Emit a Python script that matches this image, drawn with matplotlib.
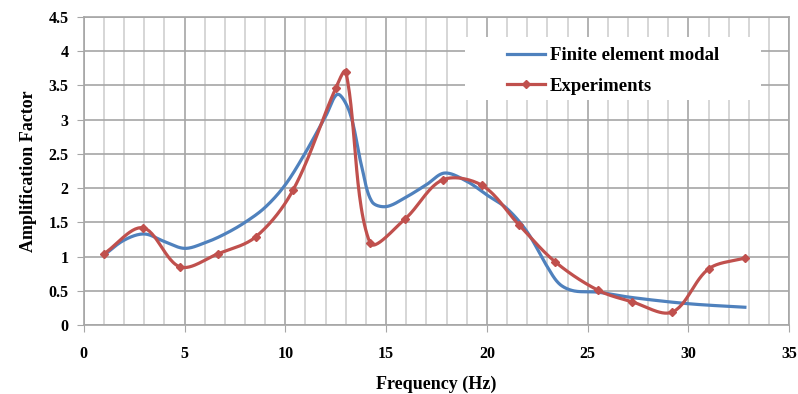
import numpy as np
import matplotlib
matplotlib.use("Agg")
import matplotlib.pyplot as plt
from matplotlib.ticker import MultipleLocator
from matplotlib.patches import Rectangle

plt.rcParams['font.family'] = ['Liberation Serif', 'DejaVu Serif']
plt.rcParams['font.weight'] = 'bold'

# data
fem_freq = [1.0, 2.0, 3.0, 4.0, 5.0, 6.0, 7.0, 8.0, 9.0, 10.0, 11.0, 12.0, 12.6,
            13.2, 13.8, 14.3, 15.0, 16.0, 17.0, 17.9, 19.0, 20.0, 21.0, 22.0,
            23.0, 23.6, 24.3, 25.5, 27.0, 29.0, 30.5, 32.8]
fem_amp = [1.02, 1.24, 1.33, 1.22, 1.12, 1.2, 1.33, 1.5, 1.72, 2.05, 2.52, 3.05, 3.37,
           3.1, 2.3, 1.8, 1.73, 1.87, 2.05, 2.22, 2.1, 1.9, 1.7, 1.36,
           0.85, 0.6, 0.5, 0.48, 0.41, 0.34, 0.3, 0.26]

exp_freq = [1.0, 2.93, 4.77, 6.65, 8.54, 10.38, 12.5, 13.0, 14.2, 15.94, 17.8,
            19.76, 21.6, 23.4, 25.5, 27.2, 29.2, 31.0, 32.8]
exp_amp = [1.04, 1.42, 0.85, 1.04, 1.29, 1.97, 3.46, 3.7, 1.2, 1.55, 2.12,
           2.04, 1.46, 0.92, 0.51, 0.34, 0.19, 0.82, 0.98]


def smooth(xs, ys, n=30, sx=20.14, sy=68.4):
    # bezier smoothing with chord-length weighted tangents (less overshoot)
    p = np.column_stack([np.array(xs) * sx, np.array(ys) * sy])
    d = np.hypot(*np.diff(p, axis=0).T)
    m = np.zeros_like(p)
    m[0] = (p[1] - p[0]) / d[0]
    m[-1] = (p[-1] - p[-2]) / d[-1]
    for i in range(1, len(p) - 1):
        m[i] = (p[i + 1] - p[i - 1]) / (d[i - 1] + d[i])
    out = []
    t = np.linspace(0, 1, n)[:, None]
    for i in range(len(p) - 1):
        p1, p2 = p[i], p[i + 1]
        c1 = p1 + m[i] * d[i] / 3
        c2 = p2 - m[i + 1] * d[i] / 3
        seg = ((1 - t) ** 3) * p1 + 3 * ((1 - t) ** 2) * t * c1 + 3 * (1 - t) * t ** 2 * c2 + t ** 3 * p2
        out.append(seg)
    out = np.vstack(out)
    return out[:, 0] / sx, out[:, 1] / sy


fig = plt.figure(figsize=(7.98, 3.94), dpi=100)
ax = fig.add_axes([0.105, 0.175, 0.884, 0.782])

bx, by = smooth(fem_freq, fem_amp)
rx, ry = smooth(exp_freq, exp_amp)

ax.plot(bx, by, color='#4F81BD', lw=2.3, label='Finite element modal', zorder=3)
ax.plot(rx, ry, color='#C0504D', lw=2.3, zorder=4)
ax.plot(exp_freq, exp_amp, ls='none', marker='D', ms=4.5, color='#C0504D', zorder=5)
ax.plot([], [], color='#C0504D', lw=2.3, marker='D', ms=4.5, label='Experiments')

ax.set_xlim(0, 35)
ax.set_ylim(0, 4.5)
ax.xaxis.set_major_locator(MultipleLocator(5))
ax.xaxis.set_minor_locator(MultipleLocator(1))
ax.set_yticks([0, 0.5, 1, 1.5, 2, 2.5, 3, 3.5, 4, 4.5])
ax.set_yticklabels(['0', '0.5', '1', '1.5', '2', '2.5', '3', '3.5', '4', '4.5'])

ax.grid(which='major', color='#a6a6a6', lw=1.2, zorder=0)
ax.grid(which='minor', axis='x', color='#d0d0d0', lw=1.2, zorder=0)
for s in ax.spines.values():
    s.set_color('#a6a6a6')
    s.set_linewidth(1.2)
ax.tick_params(which='major', length=5, color='#a6a6a6', labelsize=11.5, pad=10)
ax.tick_params(axis='y', pad=6)
ax.tick_params(which='minor', length=0)

ax.set_xlabel('Frequency (Hz)', fontsize=13, fontweight='bold', labelpad=10)
ax.set_ylabel('Amplification Factor', fontsize=13, fontweight='bold', labelpad=8)

# white legend area hiding the grid
ax.add_patch(Rectangle((0.54, 0.73), 0.42, 0.205, transform=ax.transAxes,
                       facecolor='white', edgecolor='none', zorder=5))
leg = ax.legend(loc='upper left', bbox_to_anchor=(0.60, 0.902),
                frameon=False, fontsize=13.5, handlelength=2.0,
                handletextpad=0.3, borderpad=0, labelspacing=0.72,
                borderaxespad=0)
leg.set_zorder(6)

fig.savefig('out.png', dpi=100)
